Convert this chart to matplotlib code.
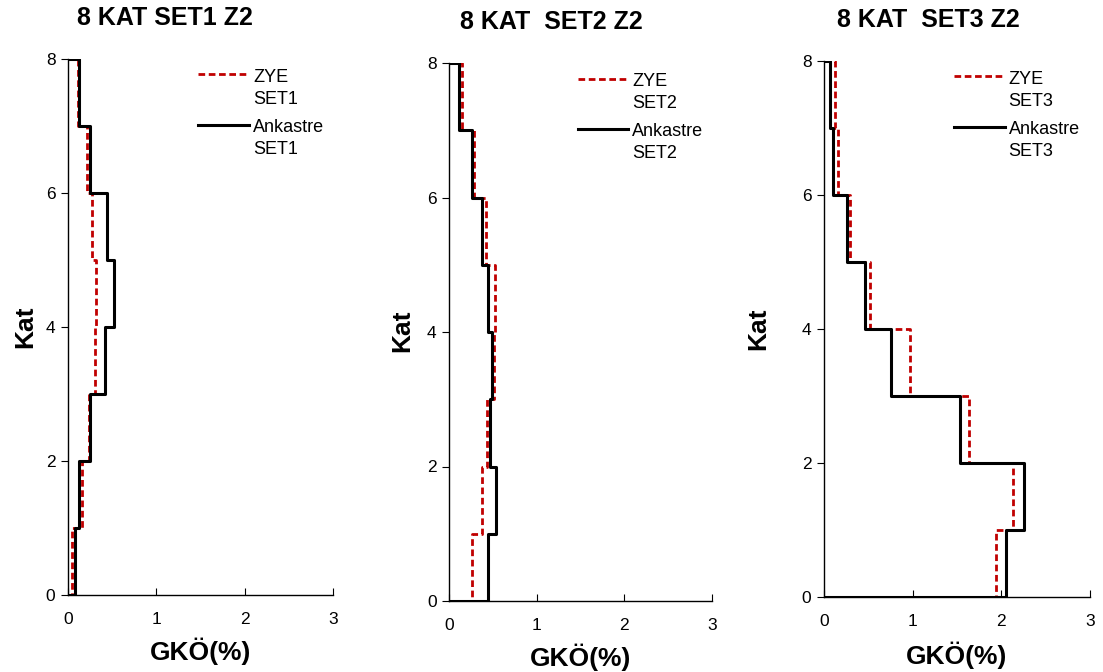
import matplotlib
matplotlib.use('Agg')
import matplotlib.pyplot as plt
from matplotlib.legend_handler import HandlerLine2D
import numpy as np

plt.rcParams['font.family'] = ['Liberation Sans', 'DejaVu Sans']

# story-drift profiles, floors 1..8 (GKO %)
floors = [1, 2, 3, 4, 5, 6, 7, 8]

zye_set1 = [0.045, 0.16, 0.24, 0.31, 0.32, 0.27, 0.21, 0.115]
ank_set1 = [0.08, 0.13, 0.25, 0.415, 0.52, 0.445, 0.25, 0.125]

zye_set2 = [0.26, 0.38, 0.43, 0.51, 0.53, 0.42, 0.29, 0.15]
ank_set2 = [0.44, 0.54, 0.47, 0.495, 0.44, 0.375, 0.26, 0.117]

zye_set3 = [1.94, 2.13, 1.63, 0.97, 0.52, 0.29, 0.16, 0.125]
ank_set3 = [2.05, 2.26, 1.53, 0.75, 0.46, 0.265, 0.10, 0.07]

titles = ['8 KAT SET1 Z2', '8 KAT  SET2 Z2', '8 KAT  SET3 Z2']
set_names = ['SET1', 'SET2', 'SET3']


def step_profile(vals):
    # closed step outline: top edge, each storey, bottom edge
    xs, ys = [0], [floors[-1]]
    for f, v in zip(floors[::-1], vals[::-1]):
        xs += [v, v]
        ys += [f, f - 1]
    xs.append(0)
    ys.append(0)
    return xs, ys


class TopLineHandler(HandlerLine2D):
    # put the legend line next to the first text line, not the middle
    def create_artists(self, legend, orig_handle, xdescent, ydescent,
                       width, height, fontsize, trans):
        arts = super().create_artists(legend, orig_handle, xdescent, ydescent,
                                      width, height, fontsize, trans)
        for a in arts:
            a.set_ydata(np.asarray(a.get_ydata()) + 0.78 * fontsize)
        return arts


W, H = 1103, 672
fig = plt.figure(figsize=(W / 100, H / 100), dpi=100)

# axes boxes in pixels: left, right, top, bottom
boxes = [(68, 333, 59, 595), (449, 712, 63, 601), (824, 1090, 61, 597)]
title_pos = [(165, 18), (551, 22), (928, 20)]
ylab_pos = [(25, 327), (402, 331), (758, 329)]
xlab_pos = [(201, 651), (581, 657), (957, 655)]
leg_x = [0.492, 0.49, 0.489]

data = [(zye_set1, ank_set1), (zye_set2, ank_set2), (zye_set3, ank_set3)]

for i in range(3):
    l, r, t, b = boxes[i]
    ax = fig.add_axes([l / W, 1 - b / H, (r - l) / W, (b - t) / H])
    zye, ank = data[i]

    x1, y1 = step_profile(zye)
    x2, y2 = step_profile(ank)
    ax.plot(x1, y1, color='#C00000', lw=2.0, ls=(0, (2.4, 1.3)),
            label='ZYE\n' + set_names[i])
    ax.plot(x2, y2, color='black', lw=2.2, label='Ankastre\n' + set_names[i])

    ax.set_xlim(0, 3)
    ax.set_ylim(0, 8)
    ax.set_xticks([0, 1, 2, 3])
    ax.set_yticks([0, 2, 4, 6, 8])
    ax.spines['top'].set_visible(False)
    ax.spines['right'].set_visible(False)
    ax.spines['left'].set_linewidth(1.0)
    ax.spines['bottom'].set_linewidth(1.0)
    ax.tick_params(axis='x', direction='in', length=5, labelsize=12.5, pad=12)
    ax.tick_params(axis='y', direction='out', length=5, labelsize=12.5, pad=4)

    hm = {ln: TopLineHandler() for ln in ax.get_lines()}
    leg = ax.legend(loc='upper left', bbox_to_anchor=(leg_x[i], 0.982),
                    frameon=False, fontsize=13, handlelength=2.8,
                    handletextpad=0.22, labelspacing=0.6, borderpad=0.0,
                    borderaxespad=0.0, handler_map=hm)
    for txt in leg.get_texts():
        txt.set_linespacing(1.42)

    tx, ty = title_pos[i]
    fig.text(tx / W, 1 - ty / H, titles[i], ha='center', va='center',
             fontsize=18, fontweight='bold')
    yx, yy = ylab_pos[i]
    fig.text(yx / W, 1 - yy / H, 'Kat', ha='center', va='center',
             rotation=90, fontsize=19, fontweight='bold')
    xx, xy = xlab_pos[i]
    fig.text(xx / W, 1 - xy / H, 'GKÖ(%)', ha='center', va='center',
             fontsize=19, fontweight='bold')

fig.savefig('out.png', dpi=100)
